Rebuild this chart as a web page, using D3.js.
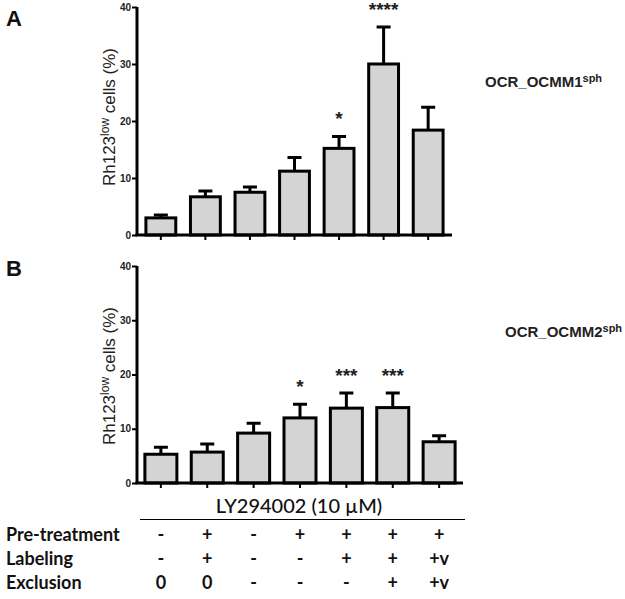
<!DOCTYPE html>
<html><head><meta charset="utf-8">
<script src="https://cdn.jsdelivr.net/npm/d3@7"></script>
<style>body{margin:0;background:#fff}svg{display:block}</style>
</head><body>
<svg id="c" width="625" height="599"></svg>
<script>
const categories = ["1","2","3","4","5","6","7"];
const valuesA = [3.0, 6.7, 7.5, 11.2, 15.2, 30.0, 18.4];
const errorsA = [0.5, 1.0, 0.9, 2.4, 2.1, 6.5, 4.0];
const sigA = ["", "", "", "", "*", "****", ""];
const valuesB = [5.3, 5.7, 9.2, 12.0, 13.8, 13.9, 7.6];
const errorsB = [1.3, 1.5, 1.8, 2.5, 2.8, 2.7, 1.1];
const sigB = ["", "", "", "*", "***", "***", ""];
const yTicks = [0, 10, 20, 30, 40];
const pretreatment = ["-", "+", "-", "+", "+", "+", "+"];
const labeling = ["-", "+", "-", "-", "+", "+", "+v"];
const exclusion = ["0", "0", "-", "-", "-", "+", "+v"];
const rowNames = ["Pre-treatment", "Labeling", "Exclusion"];
const drugLabel = "LY294002 (10 \u00B5M)";

const svg = d3.select("#c");
const SANS = "'Liberation Sans', Arial, sans-serif";

function panel(cfg) {
  const g = svg.append("g");
  const x = d3.scaleBand().domain(categories).range([cfg.x0, cfg.x1])
    .paddingInner(cfg.pIn).paddingOuter(cfg.pOut);
  const y = d3.scaleLinear().domain([0, 40]).range([cfg.yb, cfg.yt]);

  const ya = g.append("g").attr("transform", `translate(${cfg.x0},0)`)
    .call(d3.axisLeft(y).tickValues(yTicks).tickSize(5).tickPadding(1));
  ya.select(".domain").attr("stroke", "#000").attr("stroke-width", 3)
    .attr("d", `M0,${cfg.yt}V${cfg.yb}`);
  ya.selectAll(".tick line").attr("stroke", "#000").attr("stroke-width", 2);
  ya.selectAll(".tick text").attr("font-family", SANS)
    .attr("font-weight", "bold").attr("font-size", 10).attr("fill", "#222");

  g.selectAll("rect.bar").data(categories).enter().append("rect")
    .attr("x", d => x(d)).attr("width", x.bandwidth())
    .attr("y", (d, i) => y(cfg.values[i])).attr("height", (d, i) => y(0) - y(cfg.values[i]))
    .attr("fill", "#d4d4d4").attr("stroke", "#000").attr("stroke-width", 3);

  const cap = 7;
  g.selectAll("path.err").data(categories).enter().append("path")
    .attr("d", (d, i) => {
      const cx = x(d) + x.bandwidth() / 2;
      const top = y(cfg.values[i] + cfg.errors[i]);
      return `M${cx},${y(cfg.values[i])}V${top}M${cx - cap},${top}H${cx + cap}`;
    })
    .attr("stroke", "#000").attr("stroke-width", 3).attr("fill", "none");

  g.selectAll("text.sig").data(categories).enter().append("text")
    .attr("x", d => x(d) + x.bandwidth() / 2)
    .attr("y", (d, i) => y(cfg.values[i] + cfg.errors[i]) - cfg.sigOff)
    .attr("text-anchor", "middle").attr("font-family", SANS).attr("font-weight", "bold")
    .attr("font-size", 19).attr("fill", "#222").text((d, i) => cfg.sig[i]);

  const xa = g.append("g").attr("transform", `translate(0,${cfg.yb})`)
    .call(d3.axisBottom(x).tickSize(5).tickFormat(""));
  xa.select(".domain").attr("stroke", "#000").attr("stroke-width", 3)
    .attr("d", `M${cfg.x0 - 1.5},0H${cfg.x1}`);
  xa.selectAll(".tick line").attr("stroke", "#000").attr("stroke-width", 2);

  const yl = g.append("text")
    .attr("transform", `translate(${cfg.ylx},${cfg.yly}) rotate(-90)`)
    .attr("text-anchor", "middle").attr("font-family", SANS)
    .attr("font-size", 17).attr("fill", "#222");
  yl.append("tspan").text("Rh123");
  yl.append("tspan").attr("font-size", 12).attr("dy", -6).text("low");
  yl.append("tspan").attr("dy", 6).text(" cells (%)");

  g.append("text").attr("x", 6).attr("y", cfg.letterY)
    .attr("font-family", SANS).attr("font-weight", "bold")
    .attr("font-size", 22).attr("fill", "#111").text(cfg.letter);

  const cl = g.append("text").attr("x", cfg.clx).attr("y", cfg.cly)
    .attr("font-family", SANS).attr("font-weight", "bold")
    .attr("font-size", 15).attr("fill", "#222");
  cl.append("tspan").text(cfg.cell);
  cl.append("tspan").attr("font-size", 11).attr("dy", -5).text("sph");
  return x;
}

panel({x0: 137, x1: 452, pIn: 0.33, pOut: 0.2, yb: 235, yt: 7,
  values: valuesA, errors: errorsA, sig: sigA, sigOff: 11,
  ylx: 115, yly: 117, letter: "A", letterY: 26, cell: "OCR_OCMM1", clx: 485, cly: 87});
const xB = panel({x0: 137, x1: 463, pIn: 0.31, pOut: 0.17, yb: 483, yt: 266,
  values: valuesB, errors: errorsB, sig: sigB, sigOff: 11,
  ylx: 115, yly: 376, letter: "B", letterY: 276, cell: "OCR_OCMM2", clx: 505, cly: 337});

const t = svg.append("g").attr("font-family", "Lato, 'Open Sans', sans-serif").attr("fill", "#111");
t.append("text").attr("x", 299).attr("y", 513).attr("text-anchor", "middle")
  .attr("font-size", 20).attr("font-weight", 500).text(drugLabel);
t.append("line").attr("x1", 140).attr("x2", 465).attr("y1", 519.5).attr("y2", 519.5)
  .attr("stroke", "#000").attr("stroke-width", 1.2);
const rows = [pretreatment, labeling, exclusion];
const rowY = [541, 565, 589];
rowNames.forEach((n, r) => {
  t.append("text").attr("x", 6).attr("y", rowY[r]).attr("font-size", 18)
    .attr("font-weight", "bold").text(n);
  t.selectAll(null).data(categories).enter().append("text")
    .attr("x", d => xB(d) + xB.bandwidth() / 2).attr("y", rowY[r])
    .attr("text-anchor", "middle").attr("font-size", 18).attr("font-weight", "bold")
    .text((d, i) => rows[r][i]);
});
</script>
</body></html>
